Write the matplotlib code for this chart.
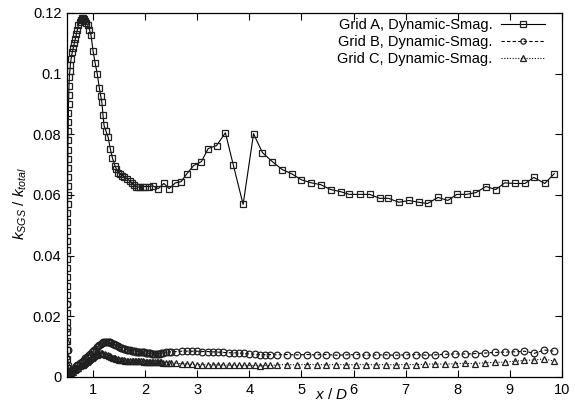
import matplotlib
matplotlib.use("Agg")
import matplotlib.pyplot as plt
from matplotlib.ticker import FuncFormatter

plt.rcParams['font.family'] = ['Liberation Sans', 'DejaVu Sans']
plt.rcParams['mathtext.fontset'] = 'custom'
plt.rcParams['mathtext.rm'] = 'Liberation Sans'
plt.rcParams['mathtext.it'] = 'Liberation Sans:italic'

# ---------------- data ----------------
labels = ["Grid A, Dynamic-Smag.", "Grid B, Dynamic-Smag.", "Grid C, Dynamic-Smag."]

a_x = [0.500, 0.5005, 0.501, 0.5015, 0.502, 0.5025, 0.503, 0.5035, 0.504, 0.5045,
       0.505, 0.5055, 0.506, 0.5065, 0.507, 0.5075, 0.508, 0.5085, 0.509, 0.510,
       0.511, 0.512, 0.513, 0.514, 0.515, 0.517, 0.519, 0.521, 0.523, 0.526,
       0.529, 0.533, 0.538, 0.545, 0.555, 0.565, 0.580, 0.600, 0.620, 0.640,
       0.660, 0.680, 0.700, 0.720, 0.740, 0.760, 0.780, 0.800, 0.820, 0.840,
       0.870, 0.900, 0.930, 0.960, 1.000, 1.040, 1.080, 1.120, 1.150, 1.170,
       1.190, 1.210, 1.250, 1.290, 1.330, 1.370, 1.420, 1.450, 1.480, 1.520,
       1.560, 1.600, 1.650, 1.700, 1.750, 1.790, 1.830, 1.870, 1.900, 1.950,
       2.000, 2.080, 2.150, 2.250, 2.360, 2.460, 2.580, 2.690, 2.800, 2.930,
       3.080, 3.210, 3.370, 3.540, 3.690, 3.880, 4.080, 4.250, 4.440, 4.630,
       4.810, 5.000, 5.190, 5.370, 5.560, 5.750, 5.920, 6.120, 6.310, 6.500,
       6.670, 6.870, 7.060, 7.250, 7.420, 7.620, 7.810, 7.980, 8.170, 8.350,
       8.540, 8.730, 8.900, 9.100, 9.290, 9.460, 9.670, 9.850]
a_y = [0.000, 0.003, 0.006, 0.009, 0.012, 0.015, 0.018, 0.021, 0.024, 0.027,
       0.030, 0.033, 0.036, 0.039, 0.042, 0.045, 0.048, 0.051, 0.054, 0.057,
       0.060, 0.063, 0.066, 0.069, 0.072, 0.075, 0.078, 0.081, 0.084, 0.087,
       0.090, 0.093, 0.096, 0.099, 0.101, 0.103, 0.105, 0.107, 0.1085, 0.110,
       0.1115, 0.113, 0.1145, 0.116, 0.117, 0.1178, 0.1183, 0.1183, 0.1180, 0.1175,
       0.1168, 0.1160, 0.1145, 0.1128, 0.1075, 0.1035, 0.1000, 0.0953, 0.0925, 0.0905,
       0.0865, 0.0830, 0.0810, 0.0790, 0.0753, 0.0723, 0.0697, 0.0685, 0.0674, 0.0668,
       0.0664, 0.0659, 0.0654, 0.0647, 0.0640, 0.0634, 0.0628, 0.0626, 0.0625, 0.0627,
       0.0628, 0.0628, 0.0630, 0.0621, 0.0638, 0.0621, 0.0640, 0.0644, 0.0670, 0.0697,
       0.0710, 0.0753, 0.0763, 0.0805, 0.0700, 0.0569, 0.0802, 0.0740, 0.0710, 0.0684,
       0.0670, 0.0650, 0.0640, 0.0634, 0.0618, 0.0611, 0.0602, 0.0602, 0.0602, 0.0589,
       0.0589, 0.0576, 0.0582, 0.0576, 0.0572, 0.0592, 0.0582, 0.0602, 0.0602, 0.0608,
       0.0628, 0.0618, 0.0640, 0.0638, 0.0638, 0.0658, 0.0638, 0.0670]

bc_x = [0.50, 0.505, 0.51, 0.52, 0.53, 0.54, 0.55, 0.56, 0.58, 0.60,
        0.62, 0.65, 0.68, 0.70, 0.72, 0.75, 0.78, 0.80, 0.82, 0.85,
        0.88, 0.90, 0.92, 0.95, 0.98, 1.00, 1.02, 1.05, 1.08, 1.10,
        1.12, 1.15, 1.18, 1.20, 1.22, 1.25, 1.28, 1.30, 1.32, 1.35,
        1.38, 1.40, 1.42, 1.45, 1.48, 1.50, 1.53, 1.56, 1.59, 1.62,
        1.65, 1.68, 1.71, 1.74, 1.77, 1.80, 1.83, 1.86, 1.89, 1.92,
        1.95, 1.98, 2.01, 2.04, 2.07, 2.10, 2.13, 2.16, 2.19, 2.22,
        2.25, 2.28, 2.31, 2.35, 2.40, 2.45, 2.50, 2.60, 2.70, 2.80,
        2.90, 3.00, 3.10, 3.20, 3.30, 3.40, 3.50, 3.60, 3.70, 3.80,
        3.90, 4.00, 4.10, 4.20, 4.30, 4.40, 4.53, 4.72, 4.91, 5.10,
        5.29, 5.48, 5.67, 5.86, 6.05, 6.24, 6.43, 6.62, 6.81, 7.00,
        7.19, 7.38, 7.57, 7.76, 7.95, 8.14, 8.33, 8.52, 8.71, 8.90,
        9.09, 9.28, 9.47, 9.66, 9.85]
b_y = [0.024, 0.016, 0.009, 0.004, 0.002, 0.0012, 0.0010, 0.0012, 0.0016, 0.0020,
       0.0024, 0.0030, 0.0035, 0.0038, 0.0041, 0.0046, 0.0050, 0.0053, 0.0056, 0.0061,
       0.0066, 0.0069, 0.0072, 0.0077, 0.0082, 0.0085, 0.0088, 0.0093, 0.0098, 0.0102,
       0.0106, 0.0110, 0.0113, 0.0115, 0.0116, 0.0117, 0.0116, 0.0115, 0.0114, 0.0112,
       0.0110, 0.0108, 0.0106, 0.0104, 0.0101, 0.0099, 0.0097, 0.0095, 0.0093, 0.0091,
       0.0090, 0.0089, 0.0088, 0.0087, 0.0086, 0.0085, 0.0084, 0.0084, 0.0083, 0.0082,
       0.0082, 0.0081, 0.0080, 0.0079, 0.0078, 0.0078, 0.0077, 0.0077, 0.0076, 0.0076,
       0.0076, 0.0077, 0.0078, 0.0079, 0.0081, 0.0082, 0.0083, 0.0084, 0.0085, 0.0085,
       0.0085, 0.0085, 0.0084, 0.0084, 0.0083, 0.0082, 0.0081, 0.0080, 0.0080, 0.0079,
       0.0078, 0.0076, 0.0075, 0.0074, 0.0074, 0.0074, 0.0073, 0.0074, 0.0073, 0.0074,
       0.0073, 0.0074, 0.0072, 0.0073, 0.0074, 0.0072, 0.0073, 0.0073, 0.0072, 0.0073,
       0.0074, 0.0072, 0.0073, 0.0075, 0.0076, 0.0076, 0.0077, 0.0079, 0.0081, 0.0082,
       0.0083, 0.0085, 0.0078, 0.0089, 0.0085]
c_y = [0.012, 0.007, 0.004, 0.002, 0.0012, 0.0008, 0.0008, 0.0009, 0.0012, 0.0015,
       0.0018, 0.0022, 0.0026, 0.0029, 0.0031, 0.0035, 0.0039, 0.0041, 0.0044, 0.0047,
       0.0051, 0.0053, 0.0056, 0.0059, 0.0063, 0.0065, 0.0068, 0.0071, 0.0074, 0.0076,
       0.0077, 0.0078, 0.0078, 0.0077, 0.0076, 0.0074, 0.0072, 0.0070, 0.0068, 0.0066,
       0.0064, 0.0062, 0.0061, 0.0059, 0.0058, 0.0057, 0.0056, 0.0055, 0.0055, 0.0054,
       0.0054, 0.0054, 0.0053, 0.0053, 0.0053, 0.0053, 0.0053, 0.0052, 0.0052, 0.0052,
       0.0052, 0.0051, 0.0051, 0.0051, 0.0050, 0.0050, 0.0050, 0.0049, 0.0049, 0.0049,
       0.0048, 0.0048, 0.0048, 0.0047, 0.0047, 0.0046, 0.0046, 0.0045, 0.0044, 0.0043,
       0.0042, 0.0041, 0.0041, 0.0040, 0.0040, 0.0040, 0.0039, 0.0039, 0.0039, 0.0038,
       0.0038, 0.0038, 0.0038, 0.0037, 0.0038, 0.0038, 0.0040, 0.0041, 0.0040, 0.0041,
       0.0041, 0.0040, 0.0041, 0.0040, 0.0041, 0.0041, 0.0040, 0.0041, 0.0040, 0.0041,
       0.0041, 0.0042, 0.0043, 0.0042, 0.0044, 0.0045, 0.0044, 0.0047, 0.0048, 0.0049,
       0.0052, 0.0055, 0.0056, 0.0060, 0.0052]

x_ticks = [1, 2, 3, 4, 5, 6, 7, 8, 9, 10]
y_ticks = [0, 0.02, 0.04, 0.06, 0.08, 0.1, 0.12]

# ---------------- figure ----------------
fig = plt.figure(figsize=(5.75, 4.01), dpi=100)
ax = fig.add_axes([67/575, 1 - 377/401, (562-67)/575, (377-13)/401])

ms = 4.8
mew = 0.9
ax.plot(a_x, a_y, color='black', lw=0.8, ls='-', marker='s', ms=ms,
        mfc='none', mec='#202020', mew=mew, label=labels[0])
ax.plot(bc_x, b_y, color='black', lw=0.8, ls=(0, (3, 2)), marker='o', ms=ms,
        mfc='none', mec='#202020', mew=mew, label=labels[1])
ax.plot(bc_x, c_y, color='black', lw=0.8, ls=(0, (1, 1.5)), marker='^', ms=ms,
        mfc='none', mec='#202020', mew=mew, label=labels[2])

ax.set_xlim(0.5, 10)
ax.set_ylim(0, 0.12)
ax.set_xticks(x_ticks)
ax.set_yticks(y_ticks)
ax.yaxis.set_major_formatter(FuncFormatter(lambda v, p: "%g" % v))
ax.tick_params(direction='in', top=True, right=True, length=5, width=0.8,
               labelsize=10.5, colors='black', pad=4)
for s in ax.spines.values():
    s.set_linewidth(0.9)

leg = ax.legend(loc='upper right', bbox_to_anchor=(545/575, 1 - 18/401),
                bbox_transform=fig.transFigure, frameon=False, markerfirst=False,
                fontsize=10.5, handlelength=3.0, handletextpad=0.6,
                labelspacing=0.2, borderpad=0, borderaxespad=0)
for h in leg.legend_handles:
    h.set_markersize(3.8)

fig.text(20/575, 1 - 203/401, r'$k_{SGS}$ / $k_{total}$', rotation=90,
         ha='center', va='center', fontsize=11)
fig.text(332/575, 2/401, r'$x$ / $D$', ha='center', va='baseline', fontsize=11)

fig.savefig('out.png', dpi=100)
